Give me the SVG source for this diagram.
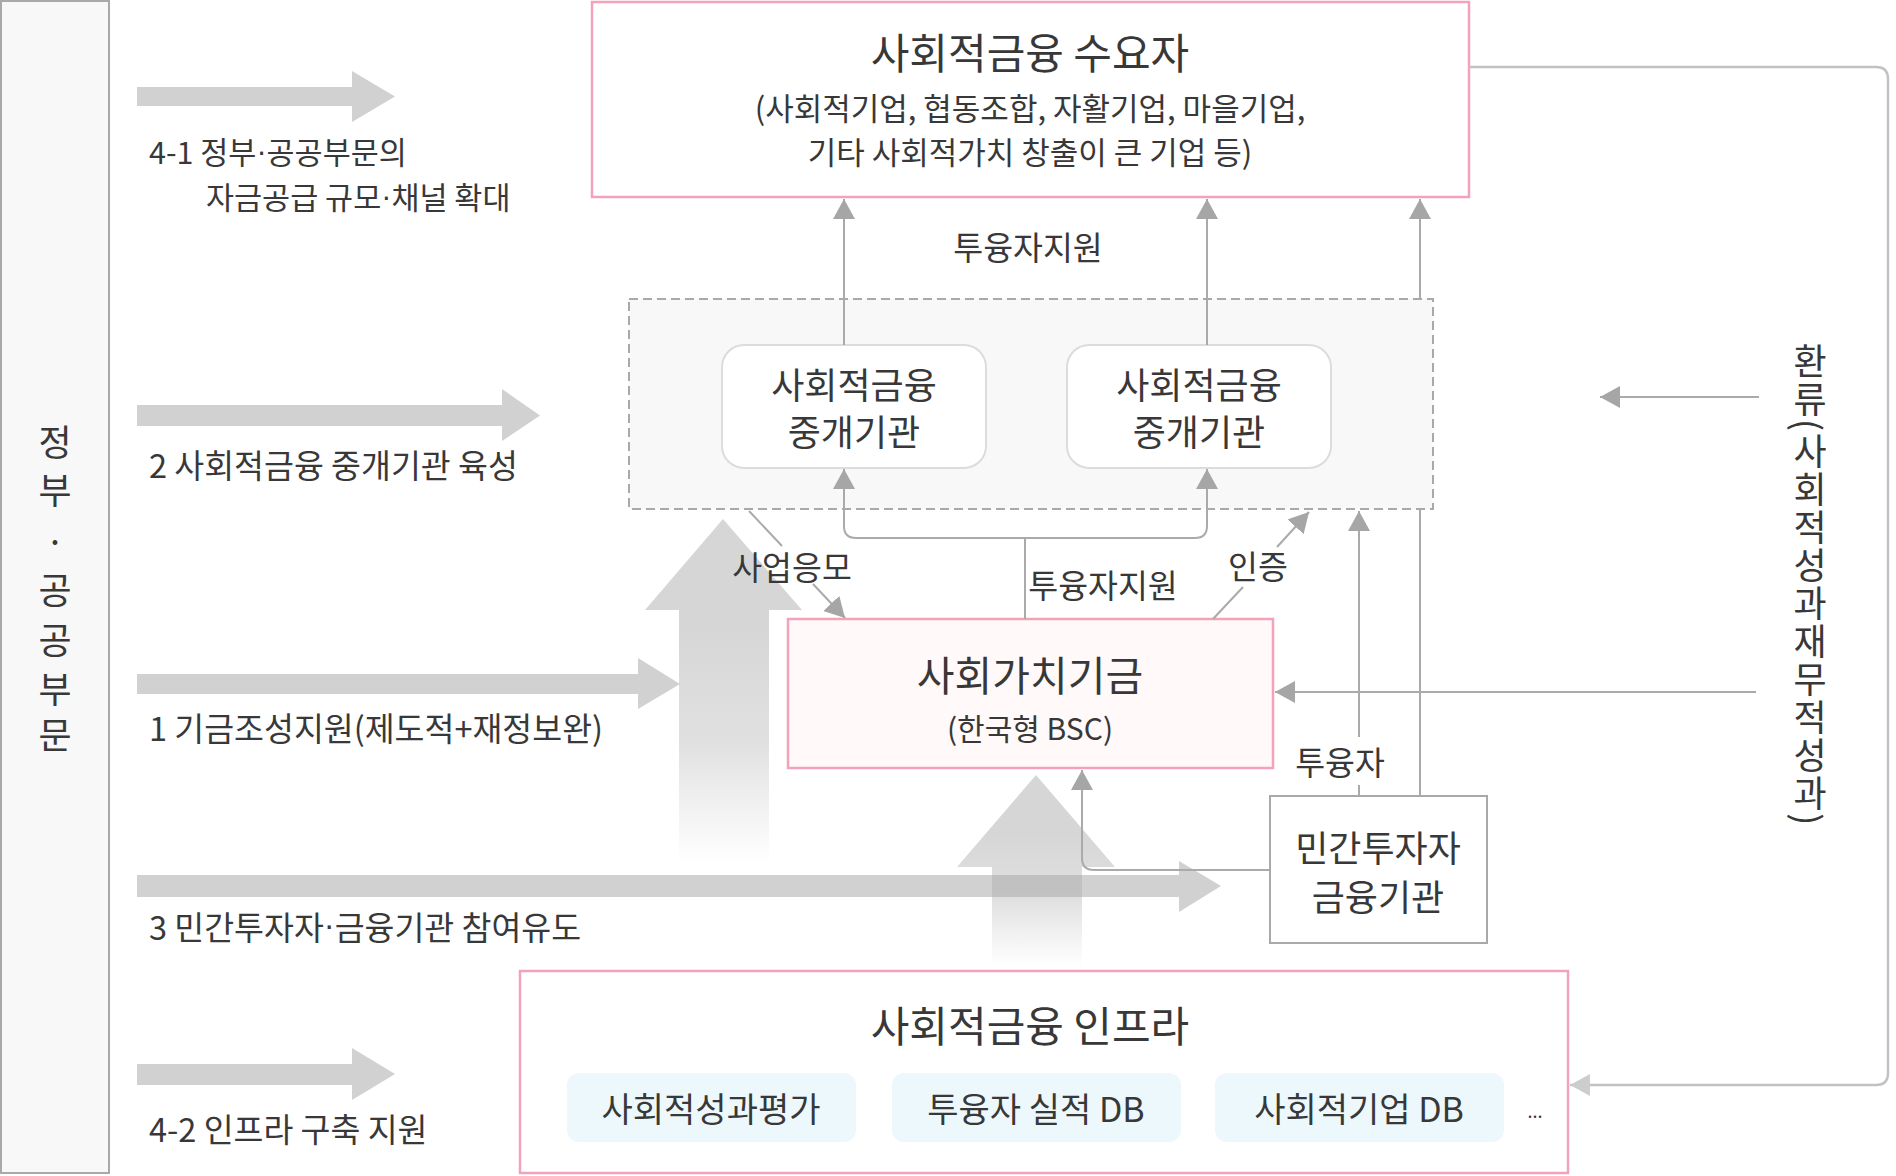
<svg xmlns="http://www.w3.org/2000/svg" width="1896" height="1176" viewBox="0 0 1896 1176">
<style>
text{font-family:"Noto Sans CJK KR","Noto Sans",sans-serif;fill:#383838;dominant-baseline:central}
.c{text-anchor:middle}
.lbl{font-size:32.5px}
.dot{font-family:"Liberation Sans",sans-serif}
.pink{fill:#ffffff;stroke:#f2a3ba;stroke-width:2.5}
.gbox{fill:#ffffff;stroke:#a9a9a9;stroke-width:2}
.conn{fill:none;stroke:#aaaaaa;stroke-width:2}
.loop{fill:none;stroke:#c2c2c2;stroke-width:2.5}
.blk{fill:#a4a4a4;fill-opacity:0.5}
</style>
<defs>
<marker id="ah" markerUnits="userSpaceOnUse" markerWidth="20" markerHeight="22" refX="20" refY="11" orient="auto"><path d="M0,0 L20,11 L0,22 Z" fill="#a6a6a6"/></marker>
<marker id="ahl" markerUnits="userSpaceOnUse" markerWidth="20" markerHeight="22" refX="20" refY="11" orient="auto"><path d="M0,0 L20,11 L0,22 Z" fill="#cdcdcd"/></marker>
<linearGradient id="gUp" x1="0" y1="0" x2="0" y2="1">
<stop offset="0" stop-color="#d6d6d6" stop-opacity="1"/>
<stop offset="0.3" stop-color="#d6d6d6" stop-opacity="1"/>
<stop offset="0.65" stop-color="#d9d9d9" stop-opacity="0.8"/>
<stop offset="1" stop-color="#dddddd" stop-opacity="0"/>
</linearGradient>
</defs>
<rect width="1896" height="1176" fill="#ffffff"/>

<g id="gov-panel">
<rect x="1" y="1" width="108" height="1172" fill="#f8f8f8" stroke="#a9a9a9" stroke-width="2"/>
<text class="c" style="font-size:36px" x="55 55 55 55 55 55 55" y="440 488 540 588 638 687 733">정부·공공부문</text>
</g>

<g id="big-arrows">
<path d="M723,519 L802,610 L769,610 L769,865 L679,865 L679,610 L645,610 Z" fill="url(#gUp)"/>
<path d="M1036,775 L1115,867 L1082,867 L1082,967 L992,967 L992,867 L957,867 Z" fill="url(#gUp)"/>
</g>

<g id="policy-arrows">
<polygon class="blk" points="137,87 352,87 352,71 395,96.5 352,122 352,106 137,106"/>
<polygon class="blk" points="137,405 502,405 502,389 540,415.5 502,441 502,426 137,426"/>
<polygon class="blk" points="137,674 638,674 638,658 680,684 638,709 638,694 137,694"/>
<polygon class="blk" points="137,875 1179,875 1179,861 1221,886 1179,912 1179,897 137,897"/>
<polygon class="blk" points="137,1064 352,1064 352,1048 395,1074 352,1100 352,1085 137,1085"/>
<text style="font-size:30.5px" x="149" y="151">4-1 정부<tspan class="dot">·</tspan>공공부문의</text>
<text style="font-size:30.5px" x="206" y="196">자금공급 규모<tspan class="dot">·</tspan>채널 확대</text>
<text class="lbl" x="149" y="463">2 사회적금융 중개기관 육성</text>
<text class="lbl" x="149" y="726">1  기금조성지원(제도적+재정보완)</text>
<text class="lbl" x="149" y="925">3 민간투자자<tspan class="dot">·</tspan>금융기관 참여유도</text>
<text class="lbl" x="149" y="1127">4-2 인프라 구축 지원</text>
</g>

<g id="demand">
<rect class="pink" x="592" y="2" width="877" height="195"/>
<text class="c" style="font-size:42px" x="1030" y="50">사회적금융 수요자</text>
<text class="c" style="font-size:31px" x="1030" y="106">(사회적기업, 협동조합, 자활기업, 마을기업,</text>
<text class="c" style="font-size:31px" x="1030" y="150">기타 사회적가치 창출이 큰 기업 등)</text>
</g>

<g id="intermediary-group">
<rect x="629" y="299" width="804" height="210" fill="#f8f8f8" stroke="#a9a9a9" stroke-width="2" stroke-dasharray="9 5"/>
</g>

<g id="intermediary-1">
<rect x="722" y="345" width="264" height="123" rx="22" fill="#ffffff" stroke="#dcdcdc" stroke-width="2"/>
<text class="c" style="font-size:36px" x="854" y="383">사회적금융</text>
<text class="c" style="font-size:36px" x="854" y="430">중개기관</text>
</g>

<g id="intermediary-2">
<rect x="1067" y="345" width="264" height="123" rx="22" fill="#ffffff" stroke="#dcdcdc" stroke-width="2"/>
<text class="c" style="font-size:36px" x="1199" y="383">사회적금융</text>
<text class="c" style="font-size:36px" x="1199" y="430">중개기관</text>
</g>

<g id="fund">
<rect x="788" y="619" width="485" height="149" fill="#fff9fa" stroke="#f2a3ba" stroke-width="2.5"/>
<text class="c" style="font-size:41px" x="1030" y="673">사회가치기금</text>
<text class="c" style="font-size:30px" x="1030" y="727">(한국형 BSC)</text>
</g>

<g id="private">
<rect class="gbox" x="1270" y="796" width="217" height="147"/>
<text class="c" style="font-size:36px" x="1378" y="846">민간투자자</text>
<text class="c" style="font-size:36px" x="1378" y="895">금융기관</text>
</g>

<g id="infra">
<rect class="pink" x="520" y="971" width="1048" height="202"/>
<text class="c" style="font-size:42px" x="1030" y="1023">사회적금융 인프라</text>
<rect x="567" y="1073" width="289" height="69" rx="12" fill="#edf8fc"/>
<text class="c" style="font-size:34px" x="711" y="1107">사회적성과평가</text>
<rect x="892" y="1073" width="289" height="69" rx="12" fill="#edf8fc"/>
<text class="c" style="font-size:34px" x="1036" y="1107">투융자 실적 DB</text>
<rect x="1215" y="1073" width="289" height="69" rx="12" fill="#edf8fc"/>
<text class="c" style="font-size:34px" x="1359" y="1107">사회적기업 DB</text>
<text class="c" style="font-size:18px" x="1535" y="1110">...</text>
</g>

<g id="feedback-label">
<text style="font-size:36px;writing-mode:vertical-rl;letter-spacing:2px" x="1810" y="343">환류(사회적성과재무적성과)</text>
</g>

<g id="connectors">
<path class="conn" d="M844,345 V199" marker-end="url(#ah)"/>
<path class="conn" d="M1207,345 V199" marker-end="url(#ah)"/>
<path class="conn" d="M1420,299 V199" marker-end="url(#ah)"/>
<path class="conn" d="M1420,796 V509"/>
<path class="conn" d="M1025,619 V538"/>
<path class="conn" d="M1025,538 H856 Q844,538 844,526 V469" marker-end="url(#ah)"/>
<path class="conn" d="M1025,538 H1195 Q1207,538 1207,526 V469" marker-end="url(#ah)"/>
<path class="conn" d="M749,511 L782,546"/>
<path class="conn" d="M813,584 L845,618" marker-end="url(#ah)"/>
<path class="conn" d="M1213,619 L1243,587"/>
<path class="conn" d="M1277,547 L1309,512" marker-end="url(#ah)"/>
<path class="conn" d="M1359,796 V785"/>
<path class="conn" d="M1359,737 V511" marker-end="url(#ah)"/>
<path class="conn" d="M1270,870 H1094 Q1082,870 1082,858 V770" marker-end="url(#ah)"/>
<path class="conn" d="M1756,692 H1275" marker-end="url(#ah)"/>
<path class="conn" d="M1759,397 H1600" marker-end="url(#ah)"/>
<path class="loop" d="M1469,67 H1876 Q1888,67 1888,79 V1073 Q1888,1085 1876,1085 H1570" marker-end="url(#ahl)"/>
<text class="c lbl" x="1028" y="245">투융자지원</text>
<text class="c lbl" x="1103" y="583">투융자지원</text>
<text class="c lbl" x="792" y="565">사업응모</text>
<text class="c lbl" x="1258" y="564">인증</text>
<text class="c lbl" x="1340" y="760">투융자</text>
</g>
</svg>
